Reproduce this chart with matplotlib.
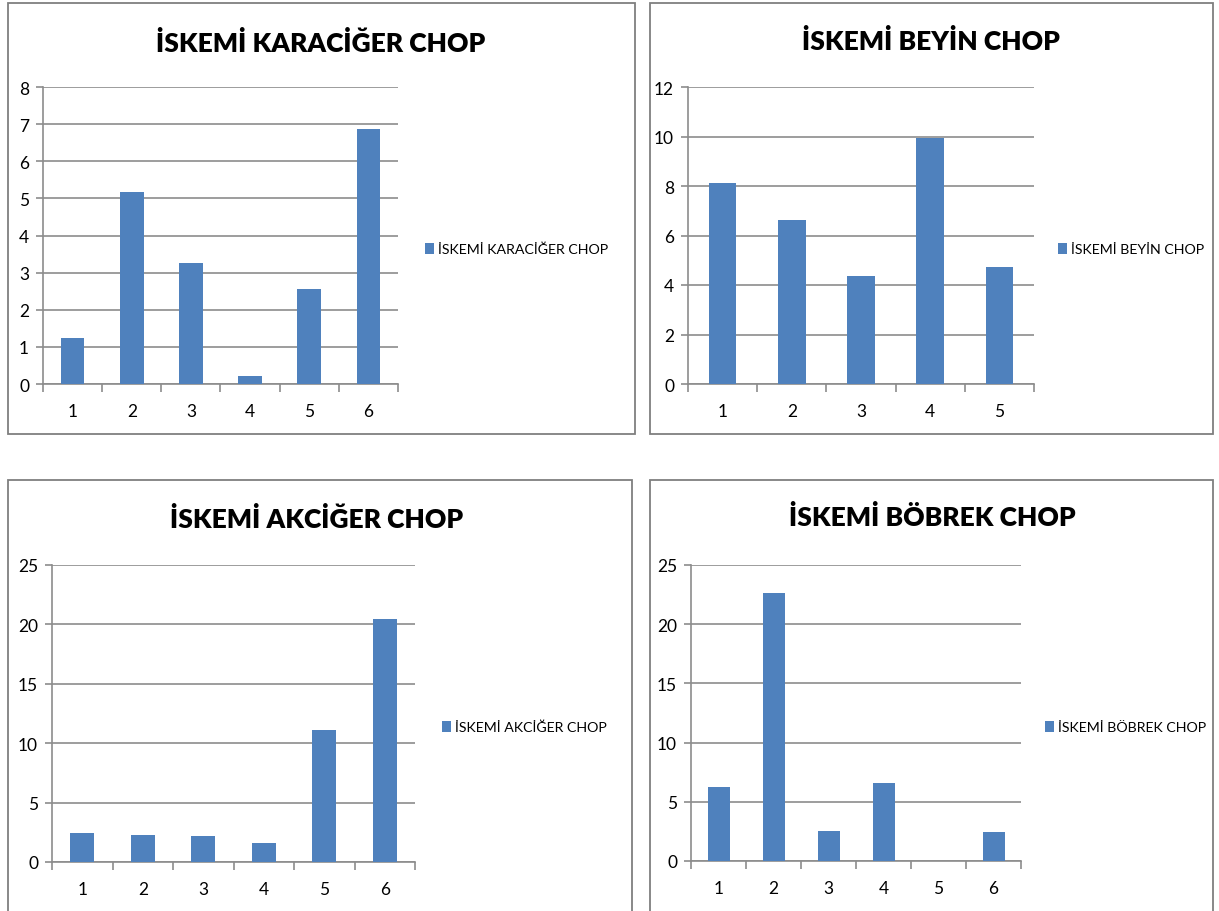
import matplotlib
matplotlib.use("Agg")
import matplotlib.pyplot as plt
from matplotlib.patches import Rectangle

plt.rcParams['font.family'] = ['Lato', 'DejaVu Sans']

# bar heights per organ
karaciger = [1.23, 5.16, 3.27, 0.22, 2.55, 6.88]
beyin = [8.11, 6.61, 4.36, 9.93, 4.71]
akciger = [2.44, 2.27, 2.18, 1.62, 11.14, 20.49]
bobrek = [6.22, 22.6, 2.52, 6.61, 0, 2.44]

titles = ['İSKEMİ KARACİĞER CHOP', 'İSKEMİ BEYİN CHOP',
          'İSKEMİ AKCİĞER CHOP', 'İSKEMİ BÖBREK CHOP']
ymax = [8, 12, 25, 25]
ystep = [1, 2, 5, 5]

W, H = 1219, 912
BLUE = '#4F81BD'
GRID = '#8C8C8C'

fig = plt.figure(figsize=(W / 100, H / 100), dpi=100)
fig.patch.set_facecolor('white')

# panel frames (left, top, right, bottom) in pixels
frames = [(8, 4, 635, 435), (650, 4, 1213, 435),
          (8, 481, 632, 930), (650, 481, 1213, 930)]
# plot areas (left, top, right, bottom) in pixels
areas = [(43, 88, 398, 385), (688, 88, 1034, 385),
         (52, 566, 415, 863), (691, 566, 1021, 862)]
title_pos = [(321, 44), (931, 42), (317, 520), (932, 518)]
legend_pos = [(425, 250), (1058, 250), (442, 728), (1045, 728)]

for f in frames:
    l, t, r, b = f
    fig.patches.append(Rectangle((l / W, 1 - b / H), (r - l) / W, (b - t) / H,
                                 transform=fig.transFigure, fill=False,
                                 edgecolor='#7F7F7F', linewidth=1.3))

data = [karaciger, beyin, akciger, bobrek]
for i, vals in enumerate(data):
    l, t, r, b = areas[i]
    ax = fig.add_axes([l / W, 1 - b / H, (r - l) / W, (b - t) / H])
    n = len(vals)
    xs = range(1, n + 1)
    ax.bar(xs, vals, width=0.4, color=BLUE, zorder=3, label=titles[i])
    ax.set_xlim(0.5, n + 0.5)
    ax.set_ylim(0, ymax[i])
    ax.set_yticks(range(0, ymax[i] + 1, ystep[i]))
    ax.yaxis.grid(True, color=GRID, linewidth=1.2, zorder=0)
    ax.set_axisbelow(True)
    for s in ['top', 'right']:
        ax.spines[s].set_visible(False)
    for s in ['left', 'bottom']:
        ax.spines[s].set_color(GRID)
        ax.spines[s].set_linewidth(1.2)
    ax.set_xticks(list(xs))
    ax.set_xticklabels([str(x) for x in xs])
    ax.set_xticks([k + 0.5 for k in range(n + 1)], minor=True)
    ax.tick_params(axis='x', which='major', length=0, pad=14, labelsize=12.5)
    ax.tick_params(axis='x', which='minor', length=6, color=GRID, width=1.2)
    ax.tick_params(axis='y', length=5, color=GRID, width=1.2, pad=5, labelsize=12.5)

    tx, ty = title_pos[i]
    fig.text(tx / W, 1 - ty / H, titles[i], ha='center', va='center',
             fontsize=19, fontweight='heavy')
    lx, ly = legend_pos[i]
    ax.legend(loc='center left', bbox_to_anchor=(lx / W, 1 - ly / H),
              bbox_transform=fig.transFigure, frameon=False, fontsize=10.2,
              handlelength=0.6, handleheight=0.9, handletextpad=0.35,
              borderpad=0, borderaxespad=0)

fig.savefig('out.png', dpi=100, facecolor='white')
